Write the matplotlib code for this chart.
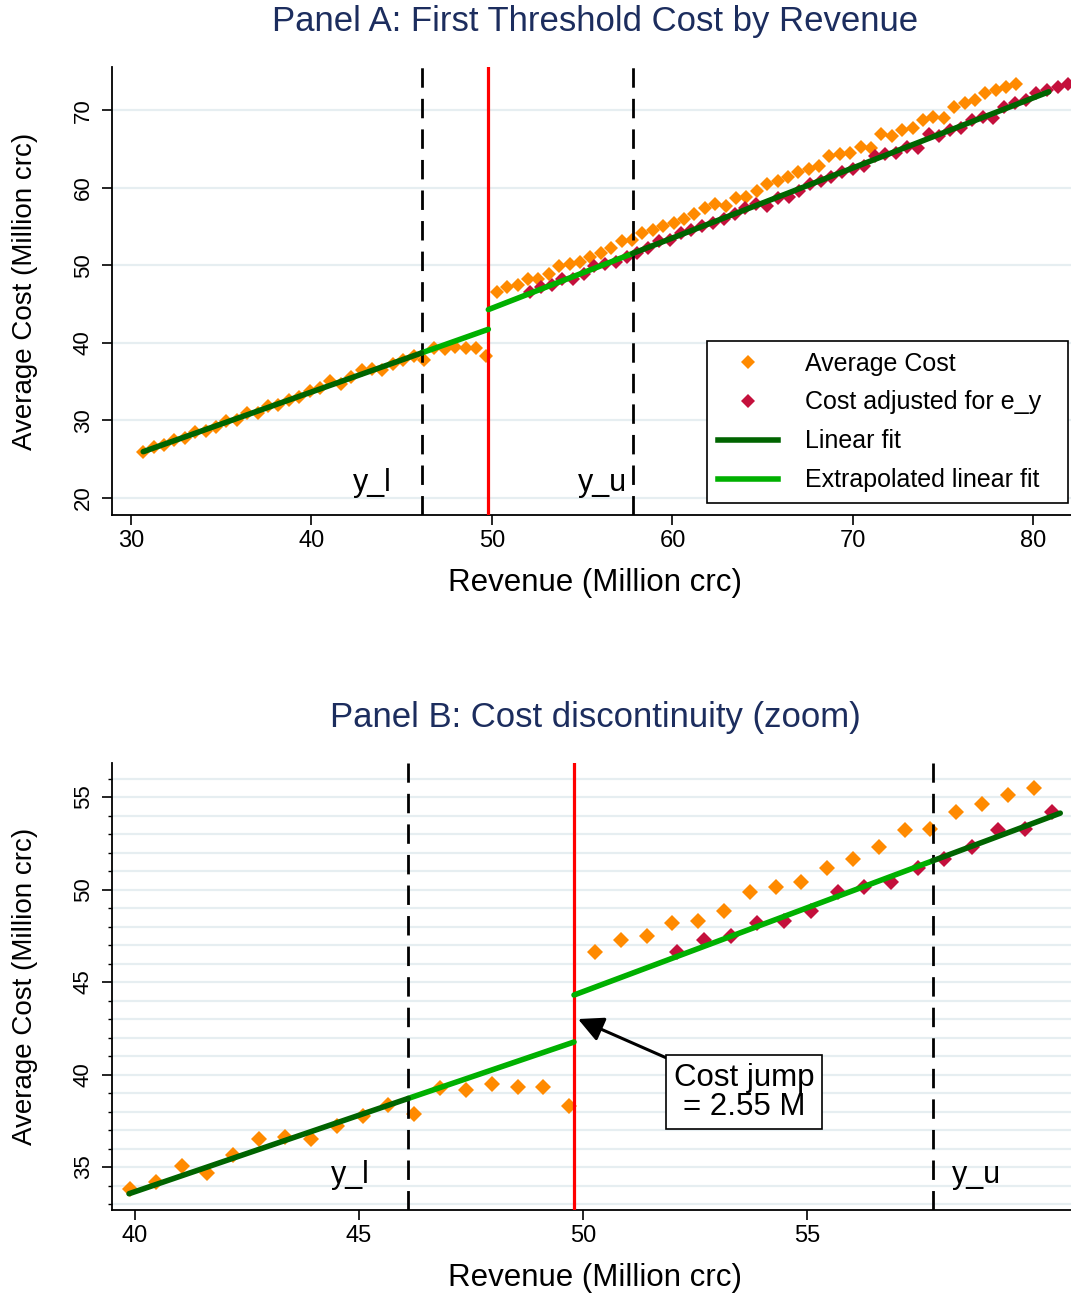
import matplotlib
matplotlib.use("Agg")
import matplotlib.pyplot as plt
from matplotlib.lines import Line2D
from matplotlib.ticker import MultipleLocator

plt.rcParams['font.family'] = ['Liberation Sans', 'DejaVu Sans']
plt.rcParams['lines.scale_dashes'] = False

# ---------------- data ----------------
revenue_pre = [30.68, 31.26, 31.83, 32.41, 32.98, 33.56, 34.14, 34.71, 35.29, 35.86,
               36.44, 37.02, 37.59, 38.17, 38.74, 39.32, 39.90, 40.47, 41.05, 41.62,
               42.20, 42.78, 43.35, 43.93, 44.50, 45.08, 45.66, 46.23, 46.81, 47.38,
               47.96, 48.54, 49.11, 49.69]
avg_cost_pre = [25.9, 26.6, 26.8, 27.5, 27.7, 28.5, 28.7, 29.2, 29.9, 30.1,
                30.9, 31.0, 31.8, 32.0, 32.7, 33.0, 33.81, 34.17, 35.05, 34.66,
                35.65, 36.50, 36.64, 36.51, 37.22, 37.76, 38.35, 37.85, 39.29, 39.16,
                39.49, 39.34, 39.31, 38.30]

revenue_post = [50.26, 50.84, 51.42, 51.99, 52.57, 53.14, 53.72, 54.30, 54.87, 55.45,
                56.02, 56.60, 57.18, 57.75, 58.33, 58.90, 59.48, 60.06, 60.63, 61.21,
                61.78, 62.36, 62.94, 63.51, 64.09, 64.66, 65.24, 65.82, 66.39, 66.97,
                67.54, 68.12, 68.70, 69.27, 69.85, 70.42, 71.00, 71.58, 72.15, 72.73,
                73.30, 73.88, 74.46, 75.03, 75.61, 76.18, 76.76, 77.34, 77.91, 78.49,
                79.06]
avg_cost_post = [46.61, 47.26, 47.51, 48.20, 48.31, 48.86, 49.89, 50.14, 50.41, 51.15,
                 51.66, 52.29, 53.21, 53.28, 54.20, 54.63, 55.10, 55.48, 55.95, 56.60,
                 57.45, 57.90, 57.65, 58.75, 58.85, 59.60, 60.55, 60.90, 61.35, 62.00,
                 62.40, 62.85, 64.10, 64.35, 64.55, 65.30, 65.20, 66.95, 66.75, 67.48,
                 67.70, 68.77, 69.20, 69.00, 70.50, 70.90, 71.35, 72.20, 72.65, 73.07,
                 73.40]

revenue_adj = [52.09, 52.70, 53.30, 53.89, 54.49, 55.08, 55.68, 56.28, 56.87, 57.47,
               58.06, 58.67, 59.27, 59.86, 60.46, 61.05, 61.65, 62.25, 62.84, 63.44,
               64.04, 64.64, 65.24, 65.83, 66.43, 67.02, 67.62, 68.22, 68.81, 69.41,
               70.01, 70.61, 71.21, 71.80, 72.40, 72.99, 73.59, 74.19, 74.78, 75.38,
               75.98, 76.58, 77.18, 77.77, 78.37, 78.96, 79.56, 80.16, 80.75, 81.35,
               81.94]
cost_adj = [46.61, 47.26, 47.51, 48.20, 48.31, 48.86, 49.89, 50.14, 50.41, 51.15,
            51.66, 52.29, 53.21, 53.28, 54.20, 54.63, 55.10, 55.48, 55.95, 56.60,
            57.45, 57.90, 57.65, 58.75, 58.85, 59.60, 60.55, 60.90, 61.35, 62.00,
            62.40, 62.85, 64.10, 64.35, 64.55, 65.30, 65.20, 66.95, 66.75, 67.48,
            67.70, 68.77, 69.20, 69.00, 70.50, 70.90, 71.35, 72.20, 72.65, 73.07,
            73.40]

threshold = 49.8
y_l = 46.1
y_u = 57.8

# linear fits (end points)
fit_pre_x_A = [30.68, 46.1]
fit_pre_y_A = [25.97, 38.71]
fit_pre_x_B = [39.87, 46.1]
fit_pre_y_B = [33.56, 38.71]
extrap_pre_x = [46.1, 49.8]
extrap_pre_y = [38.71, 41.76]
extrap_post_x = [49.8, 57.8]
extrap_post_y = [44.30, 51.55]
fit_post_x_A = [57.8, 80.85]
fit_post_y_A = [51.55, 72.40]
fit_post_x_B = [57.8, 60.65]
fit_post_y_B = [51.55, 54.13]

B_max_revenue = 60.5
jump_text = "Cost jump\n= 2.55 M"
legend_labels = ["Average Cost", "Cost adjusted for e_y", "Linear fit", "Extrapolated linear fit"]

# ---------------- style ----------------
ORANGE = '#FF8A00'
CRIMSON = '#C4103C'
DKGREEN = '#006400'
LTGREEN = '#00B000'
GRID = '#E6EEF1'
TITLE_C = '#1C2D5E'

W, H = 1071, 1293
fig = plt.figure(figsize=(W / 100, H / 100), dpi=100)


def px_axes(left, top, right, bottom):
    return [left / W, 1 - bottom / H, (right - left) / W, (bottom - top) / H]


axA = fig.add_axes(px_axes(112, 67, 1071, 515))
axB = fig.add_axes(px_axes(112, 763, 1071, 1210))


def style(ax, xlim, ylim, xticks, yticks, grid_vals):
    ax.set_xlim(*xlim)
    ax.set_ylim(*ylim)
    for s in ['top', 'right']:
        ax.spines[s].set_visible(False)
    for s in ['left', 'bottom']:
        ax.spines[s].set_linewidth(1.3)
    ax.set_xticks(xticks)
    ax.set_yticks(yticks)
    ax.tick_params(axis='both', which='major', direction='out', length=7, width=1.2, colors='black')
    ax.tick_params(axis='x', labelsize=17, pad=4)
    ax.tick_params(axis='y', labelsize=16, pad=6, labelrotation=90)
    for lab in ax.get_yticklabels():
        lab.set_va('center')
    for g in grid_vals:
        ax.axhline(g, color=GRID, lw=1.6, zorder=0)


def draw(ax, rev_pre, c_pre, rev_post, c_post, r_adj, c_adj, ms,
         fpx, fpy, fqx, fqy):
    ax.plot(rev_pre + rev_post, c_pre + c_post, ls='none', marker='D', ms=ms,
            mew=0, color=ORANGE, zorder=2)
    ax.plot(r_adj, c_adj, ls='none', marker='D', ms=ms, mew=0, color=CRIMSON, zorder=2.1)
    for v in (y_l, y_u):
        ax.axvline(v, color='black', lw=2.0, ls=(0, (14, 8)), zorder=3)
    ax.axvline(threshold, color='#FF0000', lw=2.3, zorder=3)
    kw = dict(lw=4, solid_capstyle='round', zorder=4)
    ax.plot(extrap_pre_x, extrap_pre_y, color=LTGREEN, **kw)
    ax.plot(extrap_post_x, extrap_post_y, color=LTGREEN, **kw)
    ax.plot(fpx, fpy, color=DKGREEN, **kw)
    ax.plot(fqx, fqy, color=DKGREEN, **kw)


# ---- Panel A ----
style(axA, (28.95, 82.08), (17.8, 75.6), [30, 40, 50, 60, 70, 80],
      [20, 30, 40, 50, 60, 70], [20, 30, 40, 50, 60, 70])
draw(axA, revenue_pre, avg_cost_pre, revenue_post, avg_cost_post,
     revenue_adj, cost_adj, 7.3, fit_pre_x_A, fit_pre_y_A, fit_post_x_A, fit_post_y_A)
axA.text(43.35, 21.9, "y_l", fontsize=22, ha='center', va='center')
axA.text(56.15, 21.9, "y_u", fontsize=22, ha='center', va='center')

handles = [Line2D([], [], ls='none', marker='D', ms=7, mew=0, color=ORANGE),
           Line2D([], [], ls='none', marker='D', ms=7, mew=0, color=CRIMSON),
           Line2D([], [], color=DKGREEN, lw=4),
           Line2D([], [], color=LTGREEN, lw=4)]
leg = axA.legend(handles, legend_labels, loc='upper left', mode='expand',
                 bbox_to_anchor=(707 / W, 1 - 505 / H, 361 / W, 164 / H),
                 bbox_transform=fig.transFigure, borderaxespad=0,
                 fontsize=18, frameon=True, fancybox=False, edgecolor='black',
                 framealpha=1, borderpad=0.42, labelspacing=0.6,
                 handlelength=2.4, handletextpad=1.1)
leg.get_frame().set_linewidth(1.2)
leg.set_zorder(10)

# ---- Panel B ----
style(axB, (39.49, 60.89), (32.68, 56.84), [40, 45, 50, 55],
      [35, 40, 45, 50, 55], list(range(33, 57)))
axB.yaxis.set_minor_locator(MultipleLocator(1))
axB.tick_params(axis='y', which='minor', length=3, width=1.0)

selB_pre = [i for i, r in enumerate(revenue_pre) if r >= axB.get_xlim()[0]]
selB_post = [i for i, r in enumerate(revenue_post) if r <= B_max_revenue]
selB_adj = [i for i, r in enumerate(revenue_adj) if r <= B_max_revenue]
draw(axB,
     [revenue_pre[i] for i in selB_pre], [avg_cost_pre[i] for i in selB_pre],
     [revenue_post[i] for i in selB_post], [avg_cost_post[i] for i in selB_post],
     [revenue_adj[i] for i in selB_adj], [cost_adj[i] for i in selB_adj],
     8.2, fit_pre_x_B, fit_pre_y_B, fit_post_x_B, fit_post_y_B)
axB.text(44.8, 34.57, "y_l", fontsize=22, ha='center', va='center')
axB.text(58.79, 34.57, "y_u", fontsize=22, ha='center', va='center')

axB.annotate(jump_text, xy=(49.89, 43.0), xytext=(53.6, 39.05),
             ha='center', va='center', fontsize=22.5, linespacing=0.95,
             bbox=dict(boxstyle='square,pad=0.25', fc='white', ec='black', lw=1.2),
             arrowprops=dict(arrowstyle='-|>', color='black', lw=2.2,
                             mutation_scale=38, shrinkA=0, shrinkB=0),
             zorder=6)

# ---- titles and axis labels ----
fig.text(595 / W, 1 - 22 / H, "Panel A: First Threshold Cost by Revenue",
         ha='center', va='center', fontsize=25, color=TITLE_C)
fig.text(595 / W, 1 - 717 / H, "Panel B: Cost discontinuity (zoom)",
         ha='center', va='center', fontsize=25, color=TITLE_C)
for yc in (583, 1278):
    fig.text(595 / W, 1 - yc / H, "Revenue (Million crc)", ha='center', va='center',
             fontsize=22.5)
for yc in (291, 986):
    fig.text(25 / W, 1 - yc / H, "Average Cost (Million crc)", ha='center', va='center',
             fontsize=20, rotation=90)

fig.savefig("out.png", dpi=100)
